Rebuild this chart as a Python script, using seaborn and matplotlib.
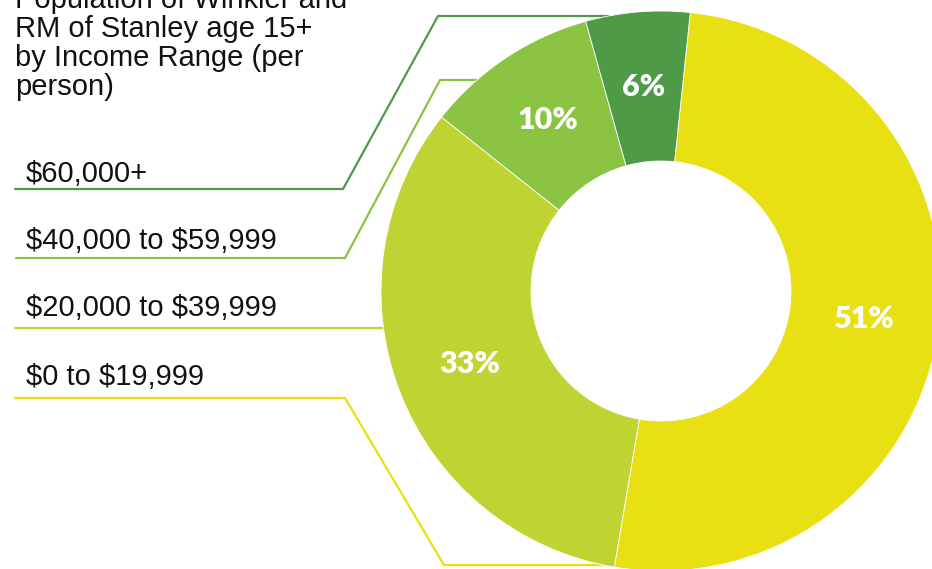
import matplotlib
matplotlib.use("Agg")
import matplotlib.pyplot as plt
import seaborn as sns
import numpy as np

# data (clockwise from top)
categories = ["$0 to $19,999", "$20,000 to $39,999", "$40,000 to $59,999", "$60,000+"]
shares = [51, 33, 10, 6]
colors = ["#E8E012", "#BFD433", "#8AC442", "#4E9A47"]
title_lines = ["Population of Winkler and", "RM of Stanley age 15+",
               "by Income Range (per", "person)"]

sns.set_style("white")
plt.rcParams["font.family"] = ["Liberation Sans", "DejaVu Sans"]
plt.rcParams["text.parse_math"] = False

W, H = 932, 569
fig = plt.figure(figsize=(W / 100, H / 100), dpi=100)
ax = fig.add_axes([0, 0, 1, 1])

cx, cy, R, r_in = 661, 291, 280, 130
wedges, _, autotexts = ax.pie(
    shares, colors=colors, center=(cx, cy), radius=R,
    startangle=276, counterclock=True,
    autopct=lambda p: f"{p:.0f}%", pctdistance=(R + r_in) / 2 / R,
    wedgeprops=dict(width=R - r_in, edgecolor="white", linewidth=0.6),
    textprops=dict(color="white", fontsize=22, fontweight="heavy", family="Lato"),
)
ax.set_xlim(0, W)
ax.set_ylim(H, 0)
ax.set_aspect("auto")
ax.axis("off")


def edge_x(y):
    return cx - np.sqrt(R ** 2 - (y - cy) ** 2)


# leader lines (label underline -> elbow -> donut edge)
leaders = {
    "$60,000+": ([15, 343, 438], [189, 189, 16]),
    "$40,000 to $59,999": ([16, 345, 440], [258, 258, 80]),
    "$20,000 to $39,999": ([15], [328]),
    "$0 to $19,999": ([15, 345, 444], [398, 398, 565]),
}
baselines = {"$60,000+": 182, "$40,000 to $59,999": 249,
             "$20,000 to $39,999": 316, "$0 to $19,999": 385}

for cat, col in zip(categories, colors):
    xs, ys = leaders[cat]
    xs = xs + [edge_x(ys[-1])]
    ys = ys + [ys[-1]]
    ax.plot(xs, ys, color=col, lw=1.6, solid_joinstyle="miter", zorder=0)
    ax.text(26, baselines[cat], cat, fontsize=21, color="#111111",
            va="baseline", ha="left")

for i, line in enumerate(title_lines):
    ax.text(15, 8 + 29 * i, line, fontsize=21, color="#111111",
            va="baseline", ha="left")

fig.savefig("out.png", dpi=100, facecolor="white")
plt.close(fig)
